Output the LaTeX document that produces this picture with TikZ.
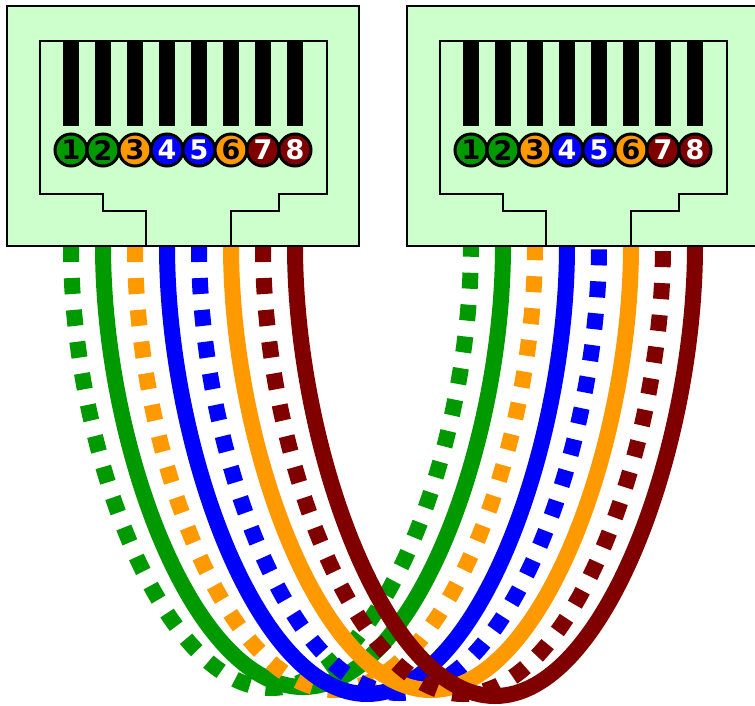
\documentclass[tikz,border=0pt]{standalone}
\usepackage{fontspec}
\setmainfont{DejaVu Sans}
\definecolor{wgreen}{HTML}{009900}
\definecolor{worange}{HTML}{FF9900}
\definecolor{wblue}{HTML}{0000FF}
\definecolor{wbrown}{HTML}{800000}
\definecolor{shell}{HTML}{CCFFCC}
\tikzset{
  wire/.style={line width=16pt,line cap=butt},
  striped/.style={wire,dash pattern=on 16pt off 16pt},
  shellbody/.style={draw=black,fill=shell,line width=2pt,line join=miter},
  cavity/.style={draw=black,line width=2pt,line join=miter},
  contact/.style={fill=black,draw=none,minimum width=16pt,minimum height=86pt,inner sep=0pt,outer sep=0pt},
  pinball/.style={circle,draw=black,line width=3pt,minimum size=32pt,inner sep=0pt,font=\bfseries\fontsize{27}{27}\selectfont}
}
\begin{document}
\begin{tikzpicture}[x=1pt,y=-1pt]
\clip (0,0) rectangle (755,705);
\fill[white] (0,0) rectangle (755,705);
% free wire ends under each jack, and the lowest point of each wire
\foreach \i/\xa/\d in {1/71/442,2/103/441,3/135/444,4/167/448,5/199/447,6/231/444,7/263/448,8/295/450}{
  \coordinate (L\i) at (\xa,246);
  \coordinate (R\i) at ({\xa+400},246);
  \coordinate (M\i) at ({\xa+200},{246+\d});
}
% wires
\foreach \i/\c/\s in {1/wgreen/striped,2/wgreen/wire,3/worange/striped,4/wblue/wire,5/wblue/striped,6/worange/wire,7/wbrown/striped,8/wbrown/wire}{
  \draw[\s,draw=\c] (L\i) .. controls +(0,200) and +(-110,0) .. (M\i)
                          .. controls +(110,0) and +(0,200) .. (R\i);
}
% jacks
\foreach \dx/\side in {0/A,400/B}{
  \begin{scope}[xshift=\dx pt]
    \draw[shellbody] (7,6) rectangle (359,246);
    \draw[cavity] (146,246) -- (146,211) -- (103,211) -- (103,194.3) -- (39.5,194.3) -- (39.5,40.5)
      -- (327,40.5) -- (327,194.3) -- (279,194.3) -- (279,211) -- (231,211) -- (231,246);
    \foreach \i/\xa/\c/\t in {1/71/wgreen/black,2/103/wgreen/black,3/135/worange/black,4/167/wblue/white,5/199/wblue/white,6/231/worange/black,7/263/wbrown/white,8/295/wbrown/white}{
      \node[contact] (bar\side\i) at (\xa,83) {};
      \node[pinball,fill=\c,text=\t] (pin\side\i) at (\xa,150) {\i};
    }
  \end{scope}
}
\end{tikzpicture}
\end{document}
